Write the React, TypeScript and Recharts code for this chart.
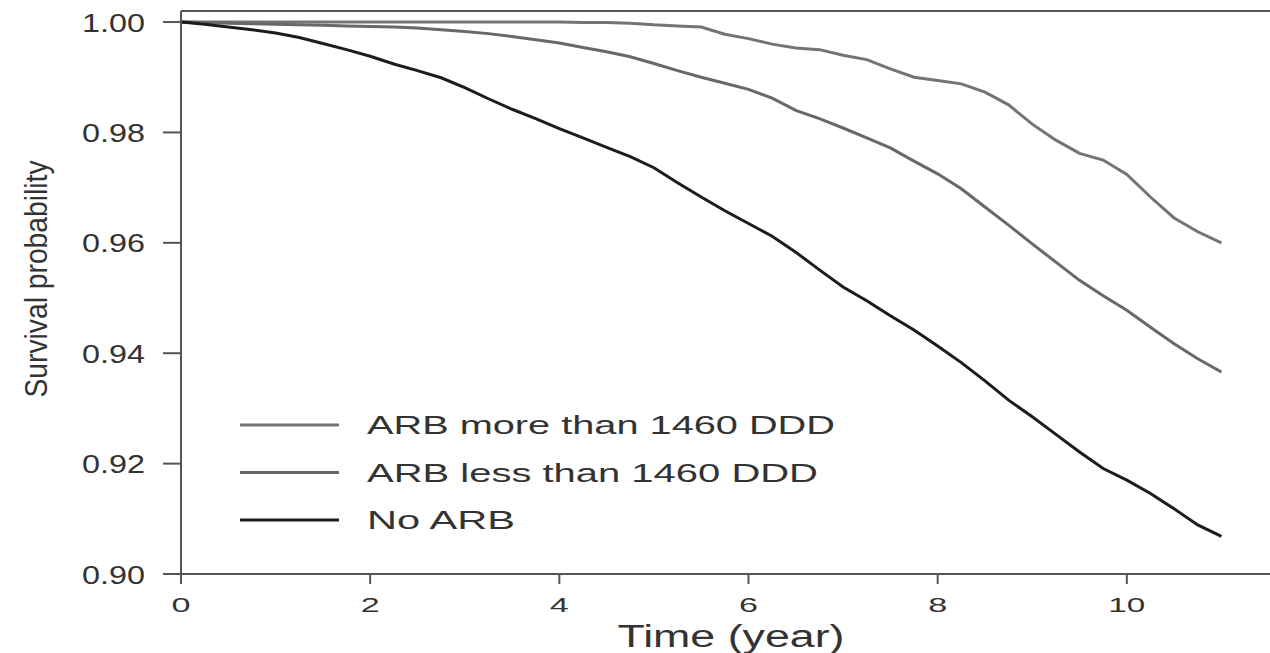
import { LineChart, Line, XAxis, YAxis, Legend, ReferenceLine } from 'recharts';

// time grid (years)
const years = [
  0, 0.25, 0.5, 0.75, 1, 1.25, 1.5, 1.75, 2, 2.25, 2.5, 2.75, 3, 3.25, 3.5, 3.75, 4, 4.25, 4.5, 4.75, 5,
  5.25, 5.5, 5.75, 6, 6.25, 6.5, 6.75, 7, 7.25, 7.5, 7.75, 8, 8.25, 8.5, 8.75, 9, 9.25, 9.5, 9.75, 10,
  10.25, 10.5, 10.75, 11,
];

const moreThan1460 = [
  1, 1, 1, 1, 1, 1, 1, 1, 1, 1, 1, 1, 1, 1, 1, 1, 1, 0.9999, 0.9999, 0.9998, 0.9995,
  0.9993, 0.9991, 0.9978, 0.997, 0.996, 0.9953, 0.995, 0.994, 0.9932, 0.9915, 0.99, 0.9894, 0.9888, 0.9873, 0.985, 0.9815,
  0.9786, 0.9762, 0.975, 0.9724, 0.9683, 0.9645, 0.962, 0.96,
];

const lessThan1460 = [
  1, 0.9999, 0.9998, 0.9997, 0.9996, 0.9995, 0.9994, 0.9993, 0.9992, 0.9991, 0.9989, 0.9986, 0.9983, 0.9979, 0.9974, 0.9968, 0.9962, 0.9954, 0.9946, 0.9937, 0.9925,
  0.9912, 0.99, 0.9889, 0.9878, 0.9862, 0.984, 0.9825, 0.9808, 0.979, 0.9772, 0.9748, 0.9725, 0.9698, 0.9665, 0.9632, 0.9598,
  0.9565, 0.9532, 0.9504, 0.9478, 0.9447, 0.9417, 0.939, 0.9366,
];

const noArb = [
  1, 0.9996, 0.9991, 0.9986, 0.998, 0.9972, 0.9961, 0.995, 0.9938, 0.9924, 0.9912, 0.9899, 0.9881, 0.9861, 0.9842, 0.9825, 0.9807, 0.979, 0.9773, 0.9756, 0.9736,
  0.9709, 0.9683, 0.9658, 0.9635, 0.9612, 0.9583, 0.9551, 0.952, 0.9495, 0.9468, 0.9442, 0.9413, 0.9383, 0.935, 0.9315, 0.9285,
  0.9253, 0.9221, 0.9191, 0.917, 0.9146, 0.9118, 0.9089, 0.9068,
];

const xTicks = [0, 2, 4, 6, 8, 10];
const yTicks = [0.9, 0.92, 0.94, 0.96, 0.98, 1.0];
const yMax = 1.002;
const seriesNames = ['ARB more than 1460 DDD', 'ARB less than 1460 DDD', 'No ARB'];
const seriesColors = ['#747474', '#686868', '#1c1c1c'];
const legendWidths = [468, 451, 148];

const data = years.map((t, i) => ({
  t,
  more: moreThan1460[i],
  less: lessThan1460[i],
  none: noArb[i],
}));

const FONT = '"Liberation Sans", Arial, Helvetica, sans-serif';
const AXIS = '#555';
const TEXT = '#333';

const YTick = ({ x, y, payload }: any) => (
  <text x={x - 16} y={y + 9.5} textAnchor="end" fontSize={26} fontFamily={FONT} fill={TEXT}
    textLength={63} lengthAdjust="spacingAndGlyphs">
    {Number(payload.value).toFixed(2)}
  </text>
);

const XTick = ({ x, y, payload }: any) => {
  const s = String(payload.value);
  return (
    <text x={x} y={y + 26} textAnchor="middle" fontSize={21} fontFamily={FONT} fill={TEXT}
      textLength={s.length === 1 ? 19 : 37} lengthAdjust="spacingAndGlyphs">
      {s}
    </text>
  );
};

const YTitle = () => (
  <text transform="translate(47,279) rotate(-90)" textAnchor="middle" fontSize={31} fontFamily={FONT} fill={TEXT}
    textLength={237} lengthAdjust="spacingAndGlyphs">
    Survival probability
  </text>
);

const XTitle = () => (
  <text x={731} y={647} textAnchor="middle" fontSize={31} fontFamily={FONT} fill={TEXT}
    textLength={227} lengthAdjust="spacingAndGlyphs">
    Time (year)
  </text>
);

const renderLegend = () => (
  <svg width={1270} height={653} style={{ position: 'absolute', left: 0, top: 0 }}>
    {seriesNames.map((name, i) => {
      const cy = 425 + i * 47.5;
      return (
        <g key={name}>
          <line x1={240} x2={339} y1={cy} y2={cy} stroke={seriesColors[i]} strokeWidth={3} />
          <text x={367} y={cy + 9} fontSize={25} fontFamily={FONT} fill={TEXT}
            textLength={legendWidths[i]} lengthAdjust="spacingAndGlyphs">
            {name}
          </text>
        </g>
      );
    })}
  </svg>
);

export default function App() {
  return (
    <div style={{ position: 'absolute', left: 0, top: 0, width: 1270, height: 653, overflow: 'hidden', background: '#fff' }}>
      <LineChart width={1300} height={653} data={data} margin={{ top: 11, right: 19, bottom: 0, left: 0 }}>
        <XAxis
          dataKey="t"
          type="number"
          domain={[0, 11.63]}
          allowDataOverflow
          ticks={xTicks}
          tickSize={10}
          height={79}
          stroke={AXIS}
          strokeWidth={2}
          tick={<XTick />}
          label={<XTitle />}
        />
        <YAxis
          type="number"
          domain={[0.9, yMax]}
          allowDataOverflow
          ticks={yTicks}
          tickSize={18}
          width={181}
          stroke={AXIS}
          strokeWidth={2}
          tick={<YTick />}
          label={<YTitle />}
        />
        <ReferenceLine y={yMax} stroke={AXIS} strokeWidth={2} ifOverflow="extendDomain" />
        <Legend layout="horizontal" verticalAlign="middle" align="center" content={renderLegend}
          wrapperStyle={{ left: 0, top: 0, width: 1270, height: 653, pointerEvents: 'none' }} />
        <Line dataKey="more" name={seriesNames[0]} stroke={seriesColors[0]} strokeWidth={3} dot={false} type="linear" isAnimationActive={false} />
        <Line dataKey="less" name={seriesNames[1]} stroke={seriesColors[1]} strokeWidth={3} dot={false} type="linear" isAnimationActive={false} />
        <Line dataKey="none" name={seriesNames[2]} stroke={seriesColors[2]} strokeWidth={3} dot={false} type="linear" isAnimationActive={false} />
      </LineChart>
    </div>
  );
}
